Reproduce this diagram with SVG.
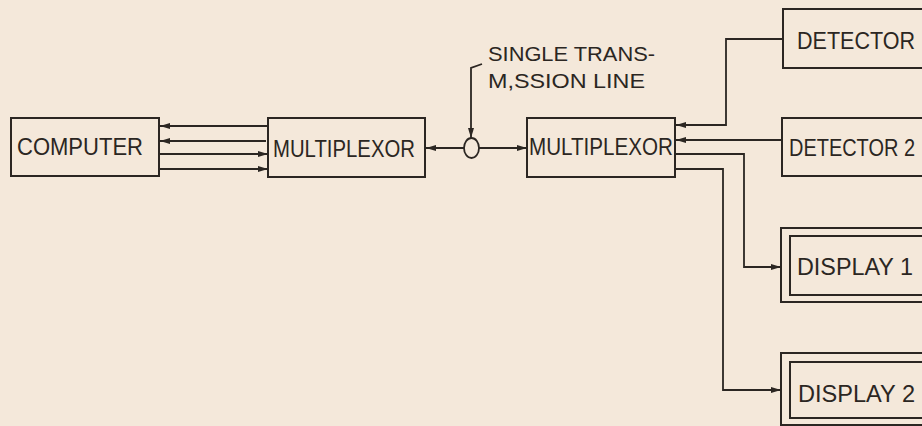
<svg xmlns="http://www.w3.org/2000/svg" width="922" height="426" viewBox="0 0 922 426">
<style>
.box{fill:none;stroke:#2b2622;stroke-width:2}
.ln{fill:none;stroke:#2b2622;stroke-width:1.8}
.t{font-family:"Liberation Sans",Arial,sans-serif;font-size:23px;fill:#2b2622}
.s{font-family:"Liberation Sans",Arial,sans-serif;font-size:20px;fill:#2b2622}
</style>
<defs>
<marker id="ah" markerUnits="userSpaceOnUse" markerWidth="10" markerHeight="6" refX="10" refY="3" orient="auto">
<path d="M0,0 L10,3 L0,6 z" fill="#2b2622"/>
</marker>
</defs>
<rect width="922" height="426" fill="#f4e8da"/>
<g id="computer">
<rect class="box" x="11" y="118" width="148" height="58"/>
<text class="t" x="17" y="155" textLength="126" lengthAdjust="spacingAndGlyphs">COMPUTER</text>
</g>
<g id="mux1">
<rect class="box" x="268" y="118" width="157" height="59"/>
<text class="t" x="273" y="157" textLength="142" lengthAdjust="spacingAndGlyphs">MULTIPLEXOR</text>
</g>
<g id="mux2">
<rect class="box" x="527" y="118" width="148" height="59"/>
<text class="t" x="529" y="155" textLength="144" lengthAdjust="spacingAndGlyphs">MULTIPLEXOR</text>
</g>
<g id="detector1">
<rect class="box" x="783" y="9" width="160" height="59"/>
<text class="t" x="797" y="49" textLength="118" lengthAdjust="spacingAndGlyphs">DETECTOR</text>
</g>
<g id="detector2">
<rect class="box" x="782" y="118" width="160" height="58"/>
<text class="s" transform="translate(789,156) scale(1,1.15)" x="0" y="0" textLength="126" lengthAdjust="spacingAndGlyphs">DETECTOR 2</text>
</g>
<g id="display1">
<rect class="box" x="781" y="228" width="160" height="74"/>
<rect class="box" x="790" y="236" width="150" height="59"/>
<text class="t" x="797" y="275" textLength="116" lengthAdjust="spacingAndGlyphs">DISPLAY 1</text>
</g>
<g id="display2">
<rect class="box" x="781" y="353" width="160" height="72"/>
<rect class="box" x="790" y="362" width="150" height="56"/>
<text class="t" x="798" y="402" textLength="117" lengthAdjust="spacingAndGlyphs">DISPLAY 2</text>
</g>
<g id="label">
<text class="s" x="488" y="61" textLength="167" lengthAdjust="spacingAndGlyphs">SINGLE TRANS-</text>
<text class="s" x="488" y="88" textLength="157" lengthAdjust="spacingAndGlyphs">M,SSION LINE</text>
</g>
<g id="connectors">
<path class="ln" d="M268,126 H160" marker-end="url(#ah)"/>
<path class="ln" d="M266,141 H160" marker-end="url(#ah)"/>
<path class="ln" d="M159,154 H268" marker-end="url(#ah)"/>
<path class="ln" d="M159,169 H268" marker-end="url(#ah)"/>
<path class="ln" d="M464,148 H426" marker-end="url(#ah)"/>
<path class="ln" d="M479,148 H527" marker-end="url(#ah)"/>
<ellipse class="ln" cx="471.5" cy="148" rx="7.5" ry="10"/>
<path class="ln" d="M482,64 L471,68 V138" marker-end="url(#ah)"/>
<path class="ln" d="M783,39 H726 V125 H676" marker-end="url(#ah)"/>
<path class="ln" d="M782,140 H676" marker-end="url(#ah)"/>
<path class="ln" d="M675,154 H744 V267 H781" marker-end="url(#ah)"/>
<path class="ln" d="M675,169 H723 V390 H781" marker-end="url(#ah)"/>
</g>
</svg>
